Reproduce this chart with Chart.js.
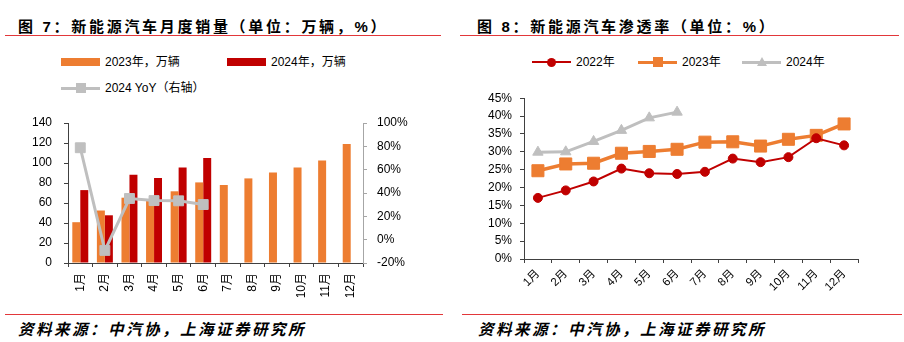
<!DOCTYPE html>
<html>
<head>
<meta charset="utf-8">
<script src="https://cdn.jsdelivr.net/npm/chart.js@4/dist/chart.umd.min.js"></script>
<style>
  body { margin: 0; background: #fff; }
  #page { position: relative; width: 904px; height: 342px; overflow: hidden; background: #fff;
          font-family: 'Liberation Sans', 'Noto Sans CJK SC', sans-serif; color: #000; }
  .title { position: absolute; top: 15px; font: bold 15px 'Liberation Sans', 'Noto Sans CJK SC', sans-serif; letter-spacing: 2.7px; white-space: nowrap; }
  .rule { position: absolute; height: 1px; background: #e2373a; }
  .source { position: absolute; top: 317px; font: italic bold 15.5px 'Noto Sans CJK SC', sans-serif; white-space: nowrap; letter-spacing: 2.5px; }
  .lg { position: absolute; font-size: 12px; white-space: nowrap; line-height: 14px; }
  .sw { position: absolute; }
  canvas { position: absolute; }
</style>
</head>
<body>
<div id="page">
  <div class="title" style="left:18px">图 7：新能源汽车月度销量（单位：万辆，%）</div>
  <div class="rule" style="left:5px;width:436px;top:35px"></div>
  <div class="title" style="left:477px">图 8：新能源汽车渗透率（单位：%）</div>
  <div class="rule" style="left:460px;width:439px;top:35px"></div>

  <div id="legend1"></div>
  <div id="legend2"></div>

  <canvas id="c1" width="450" height="200" style="left:0;top:100px"></canvas>
  <canvas id="c2" width="449" height="217" style="left:455px;top:83px"></canvas>

  <div class="rule" style="left:5px;width:438px;top:314px"></div>
  <div class="rule" style="left:462px;width:440px;top:314px"></div>
  <div class="source" style="left:18px">资料来源：中汽协，上海证券研究所</div>
  <div class="source" style="left:478px">资料来源：中汽协，上海证券研究所</div>
</div>
<script>
// categories
const months = ['1月', '2月', '3月', '4月', '5月', '6月', '7月', '8月', '9月', '10月', '11月', '12月']

// fig 7: monthly NEV sales (10k units) and 2024 YoY (%)
const sales2023 = [40.8, 52.5, 65.3, 63.6, 71.7, 80.6, 78.0, 84.6, 90.4, 95.6, 102.6, 119.1]
const sales2024 = [72.9, 47.7, 88.3, 85.0, 95.5, 104.9]
const yoy2024 = [78.8, -9.2, 35.3, 33.5, 33.3, 30.1]

// fig 8: NEV penetration rate (%)
const pen2022 = [17.1, 19.2, 21.7, 25.3, 24.0, 23.8, 24.4, 28.1, 27.1, 28.5, 33.8, 31.8]
const pen2023 = [24.7, 26.6, 26.8, 29.6, 30.1, 30.7, 32.7, 32.8, 31.6, 33.5, 34.6, 37.8]
const pen2024 = [29.9, 30.0, 32.9, 36.0, 39.5, 41.1]

// axis ranges
const salesTicks = { min: 0, max: 140, step: 20 }
const yoyTicks = { min: -20, max: 100, step: 20 }
const penTicks = { min: 0, max: 45, step: 5 }

const ORANGE = '#ED7D31'
const RED = '#C00000'
const GREY = '#BFBFBF'
const AXIS = '#404040'
const FONT = "'Liberation Sans', 'Noto Sans CJK SC', sans-serif"

Chart.defaults.font.family = FONT
Chart.defaults.color = '#000'

function fixWidth(w) { return s => { s.width = w } }
function fixHeight(h) { return s => { s.height = h } }

// ---- legends (html) ----
function addLegend(id, items) {
  const box = document.getElementById(id)
  items.forEach(it => {
    if (it.kind == 'box') {
      box.insertAdjacentHTML('beforeend',
        `<div class="sw" style="left:${it.x}px;top:${it.y - 4}px;width:39px;height:8px;background:${it.color}"></div>`)
    } else {
      box.insertAdjacentHTML('beforeend',
        `<div class="sw" style="left:${it.x}px;top:${it.y - it.lw / 2}px;width:39px;height:${it.lw}px;background:${it.color}"></div>`)
      const cx = it.x + 19.5
      let m = ''
      if (it.marker == 'circle') m = `left:${cx - 4.5}px;top:${it.y - 4.5}px;width:9px;height:9px;border-radius:50%;background:${it.color}`
      if (it.marker == 'rect') m = `left:${cx - 5}px;top:${it.y - 5}px;width:10px;height:10px;background:${it.color}`
      if (it.marker == 'triangle') m = `left:${cx - 5}px;top:${it.y - 5}px;width:0;height:0;border-left:5px solid transparent;border-right:5px solid transparent;border-bottom:9px solid ${it.color}`
      box.insertAdjacentHTML('beforeend', `<div class="sw" style="${m}"></div>`)
    }
    box.insertAdjacentHTML('beforeend',
      `<div class="lg" style="left:${it.x + 44}px;top:${it.y - 7}px">${it.label}</div>`)
  })
}

addLegend('legend1', [
  { kind: 'box', x: 61, y: 62, color: ORANGE, label: '2023年，万辆' },
  { kind: 'box', x: 227, y: 62, color: RED, label: '2024年，万辆' },
  { kind: 'line', x: 61, y: 88, lw: 3, color: GREY, marker: 'rect', label: '2024 YoY（右轴）' }
])
addLegend('legend2', [
  { kind: 'line', x: 532, y: 62, lw: 2, color: RED, marker: 'circle', label: '2022年' },
  { kind: 'line', x: 638, y: 62, lw: 3, color: ORANGE, marker: 'rect', label: '2023年' },
  { kind: 'line', x: 742, y: 62, lw: 3, color: GREY, marker: 'triangle', label: '2024年' }
])

// ---- figure 7 ----
new Chart(document.getElementById('c1'), {
  data: {
    labels: months,
    datasets: [
      {
        type: 'line', label: '2024 YoY（右轴）', data: yoy2024, yAxisID: 'y1', order: 0,
        borderColor: GREY, borderWidth: 3, pointStyle: 'rect', pointRadius: 7,
        pointBackgroundColor: GREY, pointBorderColor: GREY, pointBorderWidth: 1, tension: 0
      },
      {
        type: 'bar', label: '2023年，万辆', data: sales2023, yAxisID: 'y', order: 1,
        backgroundColor: ORANGE, categoryPercentage: 0.65, barPercentage: 1.0
      },
      {
        type: 'bar', label: '2024年，万辆', data: sales2024, yAxisID: 'y', order: 1,
        backgroundColor: RED, categoryPercentage: 0.65, barPercentage: 1.0
      }
    ]
  },
  options: {
    responsive: false,
    animation: false,
    devicePixelRatio: 1,
    layout: { padding: { top: 23, left: 0, right: 0, bottom: 0 } },
    plugins: { legend: { display: false }, tooltip: { enabled: false } },
    scales: {
      x: {
        offset: true,
        grid: { offset: true, drawOnChartArea: false, drawTicks: true, tickLength: 4, color: AXIS },
        border: { color: AXIS },
        ticks: { minRotation: 90, maxRotation: 90, padding: 6, font: { size: 12 }, color: '#000', autoSkip: false },
        afterFit: fixHeight(37)
      },
      y: {
        position: 'left',
        min: salesTicks.min, max: salesTicks.max,
        ticks: { stepSize: salesTicks.step, padding: 12, font: { size: 12 }, color: '#000', autoSkip: false },
        grid: { drawOnChartArea: false, tickLength: 4, color: AXIS },
        border: { color: AXIS },
        afterFit: fixWidth(68)
      },
      y1: {
        position: 'right',
        min: yoyTicks.min, max: yoyTicks.max,
        ticks: { stepSize: yoyTicks.step, padding: 10, font: { size: 12 }, color: '#000', autoSkip: false, callback: v => v + '%' },
        grid: { drawOnChartArea: false, tickLength: 4, color: '#A6A6A6' },
        border: { color: '#A6A6A6' },
        afterFit: fixWidth(87)
      }
    }
  }
})

// ---- figure 8 ----
new Chart(document.getElementById('c2'), {
  type: 'line',
  data: {
    labels: months,
    datasets: [
      {
        label: '2022年', data: pen2022, borderColor: RED, borderWidth: 2, tension: 0,
        pointStyle: 'circle', pointRadius: 4.5, pointBackgroundColor: RED, pointBorderColor: RED, pointBorderWidth: 1
      },
      {
        label: '2023年', data: pen2023, borderColor: ORANGE, borderWidth: 3.5, tension: 0,
        pointStyle: 'rect', pointRadius: 8.5, pointBackgroundColor: ORANGE, pointBorderColor: ORANGE, pointBorderWidth: 1
      },
      {
        label: '2024年', data: pen2024, borderColor: GREY, borderWidth: 3, tension: 0,
        pointStyle: 'triangle', pointRadius: 6, pointBackgroundColor: GREY, pointBorderColor: GREY, pointBorderWidth: 1
      }
    ]
  },
  options: {
    responsive: false,
    animation: false,
    devicePixelRatio: 1,
    layout: { padding: { top: 15, left: 0, right: 46, bottom: 0 } },
    plugins: { legend: { display: false }, tooltip: { enabled: false } },
    scales: {
      x: {
        offset: true,
        grid: { offset: true, drawOnChartArea: false, drawTicks: true, tickLength: 4, color: AXIS },
        border: { color: AXIS },
        ticks: { minRotation: 45, maxRotation: 45, padding: 4, font: { size: 11.5 }, color: '#000', autoSkip: false },
        afterFit: fixHeight(41)
      },
      y: {
        min: penTicks.min, max: penTicks.max,
        ticks: { stepSize: penTicks.step, padding: 8, font: { size: 12 }, color: '#000', autoSkip: false, callback: v => v + '%' },
        grid: { drawOnChartArea: false, tickLength: 4, color: AXIS },
        border: { color: AXIS },
        afterFit: fixWidth(69)
      }
    }
  }
})
</script>
</body>
</html>
